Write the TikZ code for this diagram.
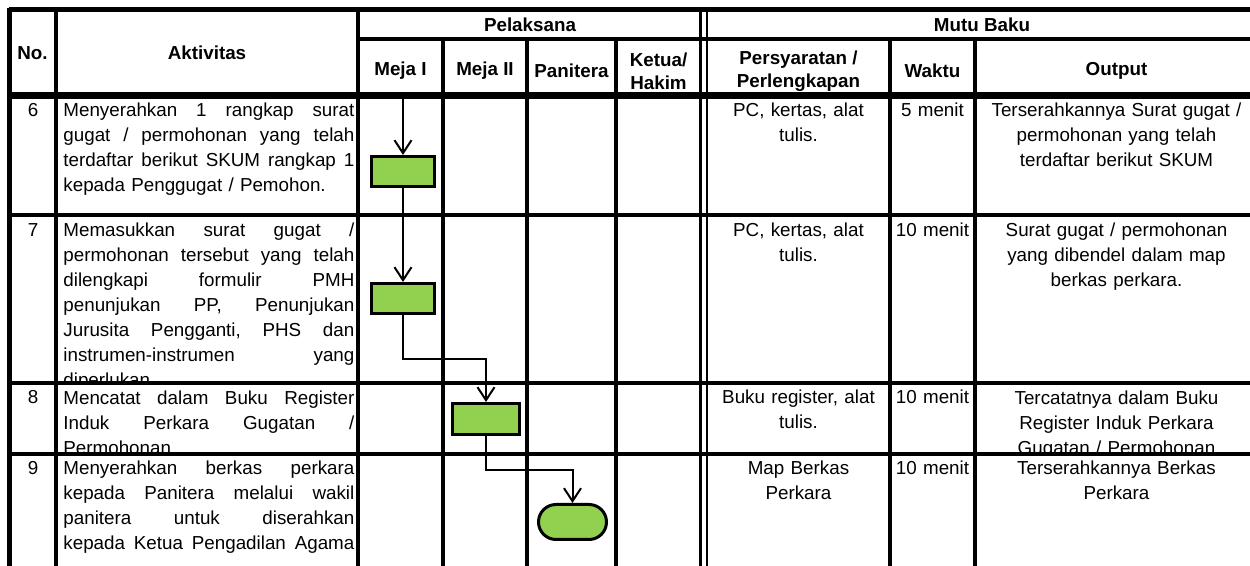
\documentclass[tikz,border=0pt]{standalone}
\usepackage{fontspec}
\setmainfont{Liberation Sans}
\usetikzlibrary{arrows.meta}
\definecolor{boxgreen}{RGB}{146,208,80}
\newcommand\jl[1]{\leavevmode\hbox to 145.5pt{\frenchspacing\spaceskip=\fontdimen2\font plus 1fil\relax #1}}
\begin{document}
\begin{tikzpicture}[x=0.5pt,y=-0.5pt,
  txt/.style={font=\fontsize{9.4}{12.5}\selectfont, inner sep=0pt},
  act/.style={txt, anchor=base west, text width=145.5pt, align=left},
  ctr/.style={txt, anchor=base, align=center},
  hdr/.style={font=\fontsize{9.4}{11.5}\selectfont\bfseries, inner sep=0pt, align=center},
  gridline/.style={line width=1.75pt},
  borderline/.style={line width=2.5pt},
  headline/.style={line width=3.25pt},
  dblline/.style={line width=1.3pt},
  task/.style={draw, line width=1.5pt, fill=boxgreen, minimum width=31.5pt, minimum height=15pt, inner sep=0pt},
  term/.style={task, rounded corners=8.75pt, minimum width=34pt, minimum height=17.5pt},
  flow/.style={line width=1pt, -{Straight Barb[length=6.5pt,width=8.5pt,line width=1pt]}},
]
\useasboundingbox (0,0) rectangle (1250,566);
\clip (0,0) rectangle (1250,566);

% ---------- header texts ----------
\node[hdr] (hno) at (32.5,53) {No.};
\node[hdr] (hakt) at (207,53) {Aktivitas};
\node[hdr] (hpel) at (530,25) {Pelaksana};
\node[hdr] (hm1) at (400.5,71) {Meja I};
\node[hdr] (hm2) at (485,71) {Meja II};
\node[hdr] (hpan) at (571.5,71) {Panitera};
\node[hdr] (hket) at (658.5,71) {Ketua/\\Hakim};
\node[hdr] (hmutu) at (982,25) {Mutu Baku};
\node[hdr] (hpers) at (798.5,71) {Persyaratan /\\Perlengkapan};
\node[hdr] (hwak) at (932.5,71) {Waktu};
\node[hdr] (hout) at (1116.5,71) {Output};

% ---------- row 6 ----------
\node[txt,anchor=base] (n6) at (33,117) {6};
\node[act] (a6) at (63,117) {\jl{Menyerahkan 1 rangkap surat}\\\jl{gugat / permohonan yang telah}\\\jl{terdaftar berikut SKUM rangkap 1}\\kepada Penggugat / Pemohon.};
\node[ctr,text width=85pt] (p6) at (798.5,117) {PC, kertas, alat\\tulis.};
\node[ctr,text width=40pt] (w6) at (932.5,117) {5 menit};
\node[ctr,text width=137pt] (o6) at (1116.5,117) {Terserahkannya Surat gugat /\\permohonan yang telah\\terdaftar berikut SKUM};

% ---------- row 7 ----------
\node[txt,anchor=base] (n7) at (33,237) {7};
\begin{scope}
\clip (56,215) rectangle (358,383);
\node[act] (a7) at (63,237) {\jl{Memasukkan surat gugat /}\\\jl{permohonan tersebut yang telah}\\\jl{dilengkapi formulir PMH}\\\jl{penunjukan PP, Penunjukan}\\\jl{Jurusita Pengganti, PHS dan}\\\jl{instrumen-instrumen yang}\\diperlukan.};
\end{scope}
\node[ctr,text width=85pt] (p7) at (798.5,237) {PC, kertas, alat\\tulis.};
\node[ctr,text width=40pt] (w7) at (932.5,237) {10 menit};
\node[ctr,text width=137pt] (o7) at (1116.5,237) {Surat gugat / permohonan\\yang dibendel dalam map\\berkas perkara.};

% ---------- row 8 ----------
\node[txt,anchor=base] (n8) at (33,404) {8};
\begin{scope}
\clip (56,383) rectangle (358,454);
\node[act] (a8) at (63,405) {\jl{Mencatat dalam Buku Register}\\\jl{Induk Perkara Gugatan /}\\Permohonan};
\end{scope}
\node[ctr,text width=85pt] (p8) at (798.5,404) {Buku register, alat\\tulis.};
\node[ctr,text width=40pt] (w8) at (932.5,404) {10 menit};
\begin{scope}
\clip (975,383) rectangle (1258,454);
\node[ctr,text width=137pt] (o8) at (1116.5,405) {Tercatatnya dalam Buku\\Register Induk Perkara\\Gugatan / Permohonan};
\end{scope}

% ---------- row 9 ----------
\node[txt,anchor=base] (n9) at (33,475) {9};
\node[act] (a9) at (63,475) {\jl{Menyerahkan berkas perkara}\\\jl{kepada Panitera melalui wakil}\\\jl{panitera untuk diserahkan}\\\jl{kepada Ketua Pengadilan Agama}};
\node[ctr,text width=85pt] (p9) at (798.5,475) {Map Berkas\\Perkara};
\node[ctr,text width=40pt] (w9) at (932.5,475) {10 menit};
\node[ctr,text width=137pt] (o9) at (1116.5,475) {Terserahkannya Berkas\\Perkara};

% ---------- grid ----------
\draw[borderline] (9,8) -- (9,570);
\draw[gridline] (56,10) -- (56,570);
\draw[gridline] (358,10) -- (358,570);
\foreach \xx in {443,527,616,890,975}
  \draw[gridline] (\xx,39) -- (\xx,570);
\draw[dblline] (700.5,10) -- (700.5,570);
\draw[dblline] (707,10) -- (707,570);
\draw[borderline] (9,10) -- (1258,10);
\draw[gridline] (358,39) -- (1258,39);
\draw[headline] (9,95.5) -- (1258,95.5);
\foreach \yy in {215,383,454}
  \draw[gridline] (9,\yy) -- (1258,\yy);

% ---------- flow ----------
\node[task] (b1) at (403,171.5) {};
\node[task] (b2) at (403,298.5) {};
\node[task, minimum width=33.5pt, minimum height=15.5pt] (b3) at (486,419) {};
\node[term] (t1) at (572.5,522) {};
\coordinate (s0) at (403,98);
\draw[flow] (s0) -- (b1.north);
\draw[flow] (b1.south) -- (b2.north);
\draw[flow] (b2.south) -- ++(0,44) -| (b3.north);
\draw[flow] (b3.south) -- ++(0,34) -| (t1.north);
\end{tikzpicture}
\end{document}
